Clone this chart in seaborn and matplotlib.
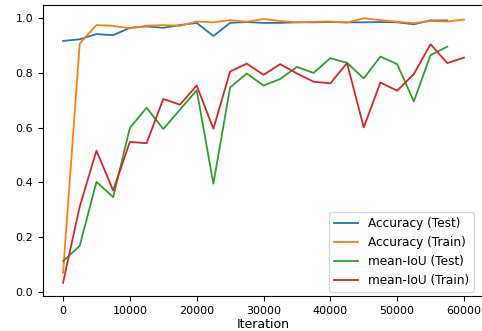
import pandas as pd
import matplotlib
matplotlib.use("Agg")
import matplotlib.pyplot as plt
import seaborn as sns

# values
iters_test = list(range(0, 60000, 2500))      # 0 .. 57500
iters_train = list(range(0, 62500, 2500))     # 0 .. 60000

acc_test = [0.917, 0.923, 0.942, 0.938, 0.965, 0.970, 0.965, 0.975, 0.983, 0.935,
            0.983, 0.986, 0.983, 0.983, 0.985, 0.985, 0.986, 0.985, 0.985, 0.986,
            0.985, 0.978, 0.992, 0.992]
acc_train = [0.069, 0.908, 0.975, 0.972, 0.963, 0.972, 0.975, 0.972, 0.988, 0.985,
             0.993, 0.987, 0.997, 0.990, 0.985, 0.987, 0.988, 0.984, 1.000, 0.993,
             0.987, 0.982, 0.990, 0.988, 0.995]
miou_test = [0.112, 0.168, 0.402, 0.346, 0.599, 0.673, 0.595, 0.666, 0.737, 0.395,
             0.747, 0.798, 0.754, 0.778, 0.822, 0.800, 0.854, 0.837, 0.780, 0.860,
             0.832, 0.696, 0.865, 0.896]
miou_train = [0.033, 0.312, 0.516, 0.370, 0.548, 0.543, 0.705, 0.684, 0.754, 0.596,
              0.805, 0.834, 0.793, 0.832, 0.798, 0.768, 0.762, 0.836, 0.601, 0.765,
              0.735, 0.796, 0.905, 0.836, 0.856]

series = [
    ("Accuracy (Test)", iters_test, acc_test),
    ("Accuracy (Train)", iters_train, acc_train),
    ("mean-IoU (Test)", iters_test, miou_test),
    ("mean-IoU (Train)", iters_train, miou_train),
]
df = pd.concat([pd.DataFrame({"Iteration": x, "value": y, "series": name})
                for name, x, y in series], ignore_index=True)

plt.rcParams["font.size"] = 8

fig = plt.figure(figsize=(4.82, 3.31), dpi=100)
# right spine sits just past the image edge, as in the cropped original
ax = fig.add_axes([43 / 482, 35 / 331, 441 / 482, 291 / 331])
sns.lineplot(data=df, x="Iteration", y="value", hue="series",
             palette=sns.color_palette("tab10", 4), linewidth=1.3, ax=ax)

ax.set_xlabel("Iteration", fontsize=9, labelpad=1.5)
ax.set_ylabel("")
ax.set_xticks([0, 10000, 20000, 30000, 40000, 50000, 60000])
ax.set_yticks([0.0, 0.2, 0.4, 0.6, 0.8, 1.0])
ax.legend(title=None, loc="lower right", bbox_to_anchor=(0.986, 0.0),
          borderaxespad=0.35, fontsize=8.7)

fig.savefig("out.png", dpi=100)
plt.close(fig)
